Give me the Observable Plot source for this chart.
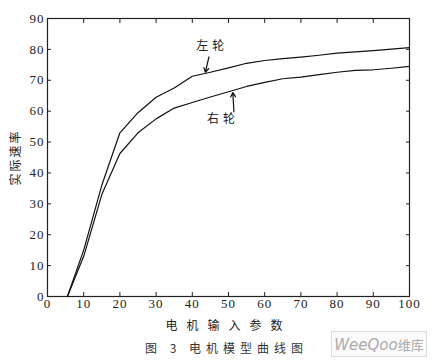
<!DOCTYPE html>
<html><head><meta charset="utf-8">
<script src="https://cdn.jsdelivr.net/npm/d3@7"></script>
<script src="https://cdn.jsdelivr.net/npm/@observablehq/plot@0.6"></script>
<style>
body{margin:0;background:#fff;}
#wrap{position:relative;width:433px;height:361px;overflow:hidden;}
#cap{position:absolute;left:0;width:433px;top:339px;text-align:center;font-family:"Noto Sans CJK SC","Liberation Serif",serif;font-size:12px;letter-spacing:5px;color:#333;padding-left:20px;box-sizing:border-box;}
#wm{position:absolute;left:331px;top:331px;width:96px;height:26px;border:1px solid #ddd;background:#fafafa;color:#aaa;font-family:"DejaVu Sans",sans-serif;font-size:15px;font-style:italic;line-height:26px;text-align:center;box-sizing:border-box;}
#wm span{font-style:normal;font-family:"Noto Sans CJK SC";font-size:13px;}
</style></head>
<body><div id="wrap"><div id="chart"></div>
<div id="cap">图 3 电机模型曲线图</div>
<div id="wm">WeeQoo<span>维库</span></div></div>
<script>
const xs = [5.5,10,15,20,25,30,35,40,45,50,55,60,65,70,75,80,85,90,95,100];
const leftWheel = [0,15,36,53,59.5,64.5,67.5,71.3,72.6,74,75.5,76.4,77,77.5,78.1,78.8,79.2,79.6,80.1,80.6];
const rightWheel = [0,13,33,46.3,53,57.5,61,62.8,64.6,66.3,68,69.3,70.5,71,71.8,72.6,73.2,73.4,73.9,74.5];
const seriesNames = ["左轮","右轮"];
const xTicks = [0,10,20,30,40,50,60,70,80,90,100];
const yTicks = [0,10,20,30,40,50,60,70,80,90];
const labelPos = [{x:45.5,y:81.2,t:"左轮"},{x:48.5,y:57.3,t:"右轮"}];
const arrowPos = [{x1:44.6,y1:77.6,x2:43.6,y2:72.6},{x1:51.5,y1:59.8,x2:51.2,y2:66.0}];

const rows = [];
xs.forEach((x,i)=>{rows.push({x,y:leftWheel[i],s:seriesNames[0]});rows.push({x,y:rightWheel[i],s:seriesNames[1]});});

const serif = "'Liberation Serif','DejaVu Serif',serif";
const blank = () => "";
const chart = Plot.plot({
  width:433, height:335,
  marginLeft:47, marginRight:24, marginTop:18, marginBottom:39,
  style:{fontFamily:serif, fontSize:"13px", color:"#222", background:"#fff", overflow:"visible"},
  x:{domain:[0,100]},
  y:{domain:[0,90]},
  marks:[
    Plot.frame({stroke:"#222", strokeWidth:1.2}),
    Plot.axisX({anchor:"bottom", ticks:xTicks, tickSize:-4, tickPadding:6, fontSize:13, label:"电机输入参数", labelAnchor:"center", labelOffset:33, labelArrow:"none"}),
    Plot.axisX({anchor:"top", ticks:xTicks, tickSize:-4, tickFormat:blank, label:null}),
    Plot.axisY({anchor:"left", ticks:yTicks, tickSize:-4, tickPadding:7, fontSize:13, label:"实际速率", labelAnchor:"center", labelOffset:36, labelArrow:"none"}),
    Plot.axisY({anchor:"right", ticks:yTicks, tickSize:-4, tickFormat:blank, label:null}),
    Plot.line(rows,{x:"x", y:"y", z:"s", stroke:"#111", strokeWidth:1.2}),
    Plot.arrow(arrowPos,{x1:"x1",y1:"y1",x2:"x2",y2:"y2", stroke:"#111", strokeWidth:1.2, headLength:6}),
    Plot.text(labelPos,{x:"x", y:"y", text:"t", fontFamily:"'Noto Sans CJK SC'", fontSize:12, fill:"#222"})
  ]
});
document.getElementById("chart").appendChild(chart);
chart.querySelectorAll("text").forEach(t=>{
  if(/[\u4e00-\u9fff]/.test(t.textContent)){t.style.fontFamily="'Noto Sans CJK SC'";t.style.letterSpacing="9px";t.style.fontSize="12px";}
  else t.style.letterSpacing="1px";
});
// y-axis label: tighter spacing
chart.querySelectorAll("[aria-label='y-axis label'] text").forEach(t=>{t.style.letterSpacing="2px";});
chart.querySelectorAll("[aria-label='text'] text").forEach(t=>{t.style.letterSpacing="4px";});
</script>
</body></html>
